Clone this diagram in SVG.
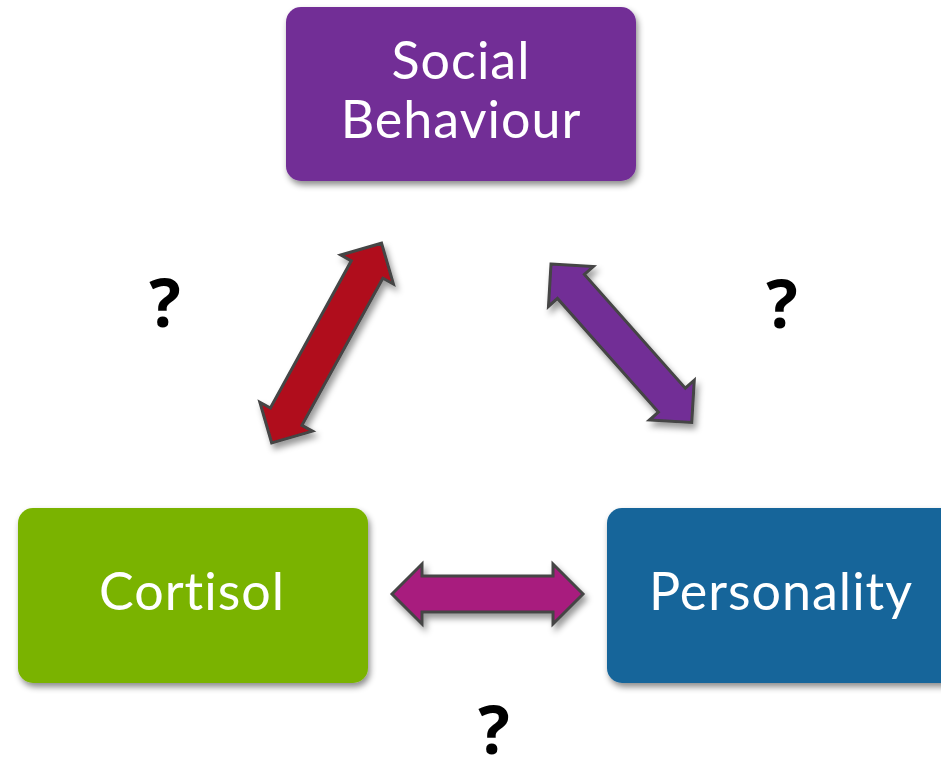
<svg xmlns="http://www.w3.org/2000/svg" width="941" height="761" viewBox="0 0 941 761">
<defs>
<filter id="sh" x="-20%" y="-20%" width="140%" height="150%">
<feDropShadow dx="2" dy="4" stdDeviation="3" flood-color="#000" flood-opacity="0.45"/>
</filter>
<filter id="ash" x="-30%" y="-30%" width="160%" height="160%">
<feDropShadow dx="3" dy="5" stdDeviation="3" flood-color="#000" flood-opacity="0.4"/>
</filter>
</defs>
<style>
.box{filter:url(#sh)}
.lbl{font-family:Lato,"Liberation Sans",sans-serif;font-size:52px;fill:#fff;text-anchor:middle;letter-spacing:1px;font-variant-ligatures:none}
.q{font-family:"Open Sans","Liberation Sans",sans-serif;font-weight:bold;font-size:66px;fill:#000;text-anchor:middle}
.arr{stroke:#444;stroke-width:3;stroke-linejoin:miter}
</style>
<rect width="941" height="761" fill="#fff"/>
<g id="social">
<rect class="box" x="286" y="7" width="350" height="174" rx="15" fill="#722F96"/>
<text class="lbl" x="461" y="79">Social</text>
<text class="lbl" x="461" y="138">Behaviour</text>
</g>
<g id="cortisol">
<rect class="box" x="18" y="508" width="350" height="175" rx="15" fill="#7AB300"/>
<text class="lbl" x="192" y="610">Cortisol</text>
</g>
<g id="personality">
<rect class="box" x="607" y="508" width="360" height="175" rx="15" fill="#19659A"/>
<text class="lbl" x="781" y="610">Personality</text>
</g>
<g id="connectors">
<g filter="url(#ash)">
<path class="arr" fill="#B00E1C" transform="translate(271.7,443) rotate(-61.2)" d="M0,0 L30,-30 L30,-18 L198,-18 L198,-30 L228,0 L198,30 L198,18 L30,18 L30,30 Z"/>
</g>
<g filter="url(#ash)">
<path class="arr" fill="#722F96" transform="translate(551,264) rotate(48.4)" d="M0,0 L30,-30 L30,-18 L182,-18 L182,-30 L212,0 L182,30 L182,18 L30,18 L30,30 Z"/>
</g>
<g filter="url(#ash)">
<path class="arr" fill="#A81B7E" transform="translate(392,594)" d="M0,0 L30,-30 L30,-18 L161,-18 L161,-30 L191,0 L161,30 L161,18 L30,18 L30,30 Z"/>
</g>
</g>
<g id="questions">
<text class="q" x="165" y="327">?</text>
<text class="q" x="782" y="328">?</text>
<text class="q" x="494" y="754">?</text>
</g>
</svg>
